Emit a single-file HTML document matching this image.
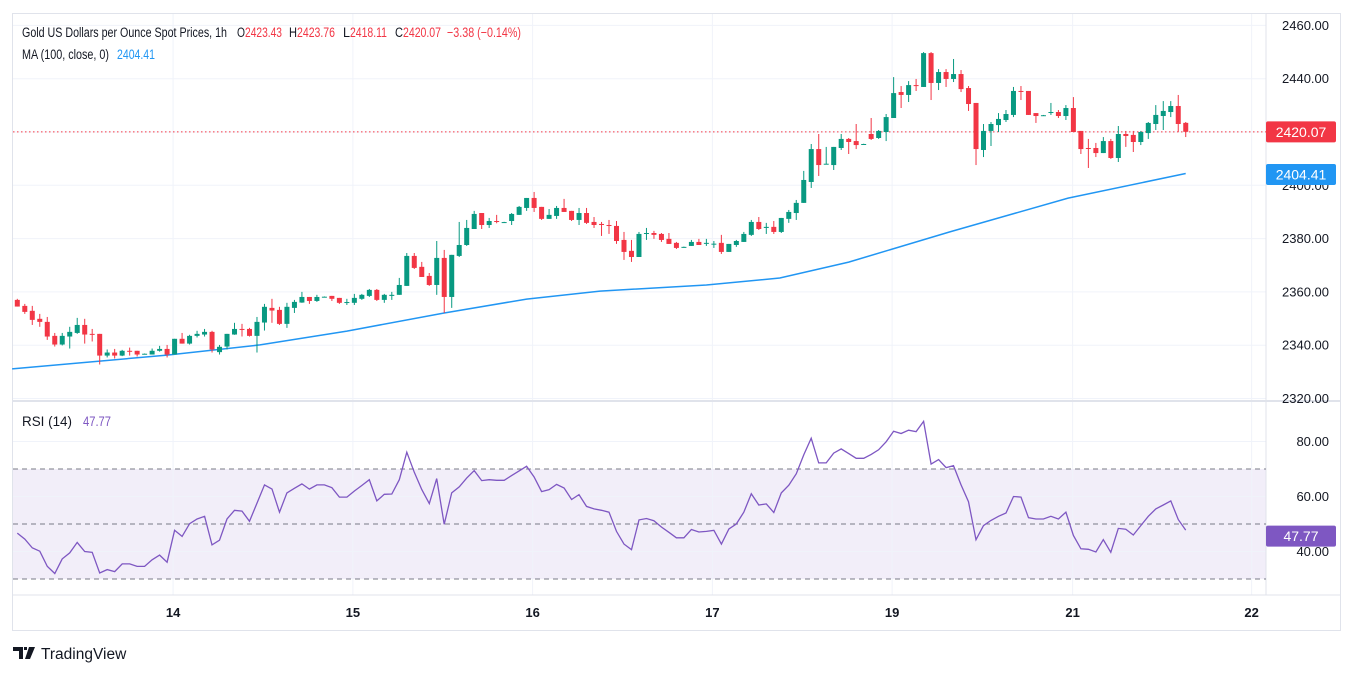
<!DOCTYPE html>
<html><head><meta charset="utf-8">
<style>
html,body{margin:0;padding:0;background:#fff;}
svg{display:block;font-family:"Liberation Sans",sans-serif;}
</style></head>
<body>
<svg id="chart" width="1354" height="675" viewBox="0 0 1354 675" xmlns="http://www.w3.org/2000/svg">
<rect x="12.5" y="13.5" width="1328" height="617" fill="#fff" stroke="#e0e3eb"/>
<rect id="band" x="13" y="469" width="1253" height="110" fill="#7e57c2" fill-opacity="0.1"/>
<g id="grid"></g>
<line x1="13" y1="401" x2="1340" y2="401" stroke="#e0e3eb" stroke-width="2"/>
<line x1="13" y1="595" x2="1340" y2="595" stroke="#e0e3eb"/>
<line x1="1266" y1="13" x2="1266" y2="595" stroke="#e0e3eb"/>
<g id="rsiGuides"></g>
<path id="maLine" fill="none" stroke="#2196f3" stroke-width="1.5"/>
<line id="lastLine" x1="13" x2="1266" stroke="#f23645" stroke-dasharray="1.5,2.5"/>
<g id="candles"></g>
<path id="rsiLine" fill="none" stroke="#7e57c2" stroke-width="1.3"/>
<g id="axes" font-size="13" fill="#131722"></g>
<g font-size="13.5" fill="#131722">
<text x="22" y="37" textLength="205" lengthAdjust="spacingAndGlyphs">Gold US Dollars per Ounce Spot Prices, 1h</text>
<text x="237" y="37" textLength="8" lengthAdjust="spacingAndGlyphs">O</text>
<text x="245" y="37" fill="#f23645" textLength="37" lengthAdjust="spacingAndGlyphs">2423.43</text>
<text x="289" y="37" textLength="8" lengthAdjust="spacingAndGlyphs">H</text>
<text x="297" y="37" fill="#f23645" textLength="38" lengthAdjust="spacingAndGlyphs">2423.76</text>
<text x="343" y="37" textLength="7" lengthAdjust="spacingAndGlyphs">L</text>
<text x="350" y="37" fill="#f23645" textLength="37" lengthAdjust="spacingAndGlyphs">2418.11</text>
<text x="395" y="37" textLength="8" lengthAdjust="spacingAndGlyphs">C</text>
<text x="403" y="37" fill="#f23645" textLength="38" lengthAdjust="spacingAndGlyphs">2420.07</text>
<text x="447" y="37" fill="#f23645" textLength="74" lengthAdjust="spacingAndGlyphs">−3.38 (−0.14%)</text>
<text x="22" y="59" textLength="87" lengthAdjust="spacingAndGlyphs">MA (100, close, 0)</text>
<text x="117" y="59" fill="#2196f3" textLength="38" lengthAdjust="spacingAndGlyphs">2404.41</text>
<text x="22" y="426" textLength="50" lengthAdjust="spacingAndGlyphs">RSI (14)</text>
<text x="83" y="426" fill="#7e57c2" textLength="28" lengthAdjust="spacingAndGlyphs">47.77</text>
</g>
<g>
<path d="M13 647h10v12h-4v-8h-6z M24 647h3v3h-3z M29 647h6l-5 12h-5z" fill="#131722"/>
<text x="41" y="659" font-size="15.5" fill="#131722">TradingView</text>
</g>
</svg>
<script>
const opens=[2357,2354.75,2352.9,2349.9,2348.75,2343.5,2340.25,2343.25,2344.6,2347.6,2344.25,2344.25,2336.1,2337.25,2336.1,2337.9,2337.9,2336.7,2336.5,2337.9,2338.6,2336.5,2342.4,2340.6,2343.5,2344,2345,2337.4,2339.5,2344,2346.1,2346.1,2343.5,2348.5,2354,2353.25,2348,2354,2356,2358.1,2356.6,2358.1,
2358.5,2357.75,2356.1,2355.9,2357.4,2358.5,2360.75,2357,2358.5,2358.9,2362.25,2373.5,2369.4,2366,2362.6,2372.75,2358.1,2373.5,2377.6,2383.6,2389.6,2385.1,2386.6,2386.1,2386.6,2388.9,2391.5,2395.25,2391.9,2387.4,2388.5,2391.5,2390.4,2387,2389.6,2386.25,2385.5,2385.1,2384.75,2379.5,2375.4,
2373.1,2381.75,2382.1,2381.75,2379.9,2378.4,2376.8,2377.25,2378.75,2378.25,2378,2378.4,2375,2377.6,2378.75,2381.4,2386.25,2384,2384.4,2382.5,2387.4,2389.6,2393.4,2401.25,2413.6,2408,2407.6,2414,2417.4,2416.6,2415.4,2419.25,2417.75,2420,
2425.25,2435,2433.9,2437.6,2436.9,2449.6,2438.4,2442.5,2439.9,2441.75,2436.5,2430.9,2413.25,2420.4,2422.6,2424.5,2426.4,2435.4,2435.4,2427.1,2426.25,2427.25,2427.5,2426,2429,2420.4,2414,2414,2412.1,2416.6,2410.25,2419.25,2418.9,2416.25,2419.6,2423,2426,2427.5,2429.75,2423.43];
const highs=[2357.4,2355.5,2354.75,2351.75,2350.6,2344.6,2344.6,2346.9,2350.25,2349.9,2346.1,2344.25,2338.4,2338.6,2338.25,2339.1,2337.9,2336.9,2338.75,2339.75,2340.1,2342.4,2344.6,2343.9,2345.4,2346.1,2345.4,2340.1,2344.25,2348.4,2348,2346.5,2350.6,2355.5,2357.4,2354.4,2355.9,2357,2360,2358.1,2358.9,2358.3,
2358.5,2357.75,2357.4,2359.25,2359.25,2361.1,2361.1,2359.25,2360,2365.25,2374.6,2374.6,2371.25,2367.1,2379.1,2375.75,2373.9,2386.25,2387,2390.4,2389.6,2387.75,2388.9,2386.3,2389.6,2392.25,2395.25,2397.5,2391.9,2391.1,2392.25,2394.9,2390.4,2391.5,2391.5,2388.1,2386.25,2387,2386.6,2382.5,2379.5,
2382.5,2384,2382.9,2382.1,2382.1,2378.75,2377,2379.5,2379.9,2379.9,2379.1,2381.4,2378,2379.5,2382.5,2387,2388.1,2385.9,2386.6,2387.75,2390.75,2394.5,2405.4,2415.5,2419.25,2414.4,2414.4,2419.25,2417.75,2423,2415.6,2425.25,2420.75,2426.75,
2440.6,2437.25,2439.1,2439.9,2450,2450,2443.6,2443.6,2447.4,2443.25,2437.25,2430.9,2423,2423.75,2427.1,2428.25,2436.9,2437.25,2435.4,2427.1,2426.4,2430.9,2428.25,2430.1,2433.1,2420.4,2417.4,2415.9,2418.1,2417.4,2422.25,2420.4,2420.4,2420.4,2423.75,2430.1,2431.6,2431.6,2433.9,2423.76];
const lows=[2354.5,2351.75,2347.6,2346.9,2342,2339.5,2339.9,2338.75,2344.25,2340.6,2341.4,2332.75,2335.4,2335,2335.9,2336.1,2335.75,2336.5,2336.5,2337.6,2335.4,2336.5,2340.6,2340.25,2342.9,2343.25,2337.25,2336.5,2338.4,2343.9,2343.25,2343.25,2337.25,2345.5,2348.4,2347.6,2346.5,2352.1,2355.9,2355.5,2356.25,2357.9,
2356.6,2355.5,2355.1,2355.1,2357,2358.1,2356.6,2355.9,2357,2358.9,2362.25,2368.6,2365.6,2362.25,2358.9,2352.1,2354,2373.1,2377.25,2383.6,2383.6,2384,2385.75,2386,2385.1,2388.9,2390.4,2390,2387,2387.4,2387.4,2390,2386.6,2385.1,2385.5,2384,2381,2381.75,2378,2372,2371.25,
2373.1,2379.5,2379.9,2378.75,2378,2376.1,2376.6,2377.25,2377.6,2377.25,2376.5,2374.25,2375,2376.9,2378.75,2381,2383.25,2381.75,2381.75,2382.1,2385.9,2387,2393.4,2399,2403.5,2408,2405.75,2413.25,2411.75,2413.6,2415.25,2417,2417.4,2416.6,
2425.25,2429,2431.25,2435.4,2436.9,2432,2435.75,2436.9,2438.75,2435,2427.9,2407.6,2410.6,2414.75,2420,2423.75,2425.6,2432,2426.4,2423.4,2426.1,2426.4,2425.25,2424.5,2420,2411.75,2406.5,2410.6,2412.1,2409.9,2408.75,2414.4,2412.5,2415.1,2417.4,2420.75,2420.75,2425.6,2420,2418.11];
const closes=[2354.5,2352.5,2349.5,2348.75,2343.25,2340.25,2343.5,2345,2347.6,2344,2344.1,2336.1,2337.25,2336.1,2337.9,2337.6,2336.5,2336.8,2337.9,2338.6,2336.5,2342.4,2340.6,2343.5,2344.25,2345,2338.4,2339.4,2344.25,2346.1,2345.9,2343.5,2348.75,2354.4,2353,2348,2354.4,2356.25,2358.1,2356.6,2358.1,2358.2,
2357.4,2355.9,2356.2,2357.75,2358.9,2360.75,2357,2358.9,2358.9,2362.6,2373.5,2369,2365.6,2362.6,2372.75,2358.1,2373.9,2377.6,2384,2389.25,2385.1,2386.6,2386.25,2386.2,2389.25,2391.9,2395.25,2391.5,2387.4,2388.9,2391.5,2390,2387,2389.6,2385.9,2385.1,2385.1,2385,2379.1,2375,2373.1,
2381.75,2382.1,2381.4,2379.5,2378,2376.5,2376.9,2378.75,2377.6,2378.4,2378.1,2375,2378,2379.1,2381.75,2386.25,2383.6,2384.4,2382.5,2387.75,2390,2393.4,2402,2413.6,2407.6,2408.1,2414.4,2417.4,2416.25,2415.1,2415.5,2417.4,2420.4,2425.6,
2434.6,2433.9,2437.6,2437.4,2449.6,2438.4,2442.5,2439.9,2441.75,2436.1,2430.5,2413.6,2420.4,2423,2424.9,2426.75,2435.4,2435.1,2426.4,2426,2426.3,2427.5,2426,2429,2420,2413.6,2413.75,2412.1,2416.6,2410.25,2419.25,2418.5,2416.25,2420,2423.4,2426.4,2427.9,2429.75,2423,2420.07];
const maBars=[-0.7,20,32.4,44,57,68,77.8,92,101.8,111,124.5,140.3,156];
const maValues=[2331.1,2336.3,2340.1,2345.3,2352.1,2357.3,2360.3,2362.6,2365.2,2371.2,2382.5,2395.2,2404.41];
const rsiValues=[46.7,44.5,41.3,40.1,34.6,32.0,37.3,39.5,43.3,40.0,39.7,32.2,33.4,32.7,35.5,35.5,34.6,34.6,37.0,38.7,36.1,47.7,45.5,50.1,51.8,52.8,42.4,44.1,51.8,55.0,54.7,51.0,57.6,64.2,62.7,54.3,61.3,63.0,64.6,62.7,64.2,64.2,63.2,59.8,59.8,62.0,64.0,66.1,58.4,60.8,60.9,66.1,76.1,68.8,62.5,57.4,66.5,49.9,61.3,63.5,66.7,69.4,65.8,66.1,65.9,65.9,67.6,69.3,71.0,67.1,61.8,62.5,64.4,63.1,58.9,60.7,56.4,55.5,55.0,54.3,47.3,42.7,40.7,51.5,52.0,51.2,48.9,47.0,45.0,45.0,48.0,47.1,47.3,47.7,42.7,48.2,50.0,54.3,61.0,56.9,57.3,54.2,61.3,64.1,68.3,75.2,81.2,72.2,72.2,75.8,77.3,75.6,73.9,73.9,75.3,77.0,79.9,83.7,82.9,84.1,83.6,87.3,71.8,73.4,70.5,71.2,64.3,58.1,44.3,49.4,51.3,52.8,54.0,60.0,59.8,52.3,51.8,51.8,52.8,51.8,54.3,45.8,41.0,40.8,39.8,44.3,39.7,48.4,48.1,46.0,49.4,52.8,55.5,56.9,58.4,51.6,47.77];
const priceTicks=[2460,2440,2420,2400,2380,2360,2340,2320];
const rsiTicks=[80,60,40];
const dayLabels=["14","15","16","17","19","21","22"];
const dayBars=[20.8,44.8,68.8,92.8,116.8,140.9,164.8];
const lastPrice=2420.07, lastMA=2404.41, lastRSI=47.77;

const NS="http://www.w3.org/2000/svg";
function xOf(i){return 17.3+7.49*i;}
function yP(p){return 132-(p-2420)*2.665;}
function yR(r){return 524-(r-50)*2.75;}
function mk(tag,attrs,parent){const e=document.createElementNS(NS,tag);for(const k in attrs)e.setAttribute(k,attrs[k]);parent.appendChild(e);return e;}

const grid=document.getElementById('grid'), axes=document.getElementById('axes');
priceTicks.forEach(t=>{
  const l=mk('line',{x1:13,x2:1266,y1:yP(t),y2:yP(t),stroke:'#f0f3fa'},grid);
  
  
  const tx=mk('text',{x:1329,y:yP(t)+4.5,'text-anchor':'end'},axes);
  
  
  tx.textContent=t.toFixed(2);
});
rsiTicks.forEach(t=>{
  const l=mk('line',{x1:13,x2:1266,y1:yR(t),y2:yR(t),stroke:'#f0f3fa'},grid);
  
  
  const tx=mk('text',{x:1329,y:yR(t)+4.5,'text-anchor':'end'},axes);
  
  
  tx.textContent=t.toFixed(2);
});
dayLabels.forEach((d,i)=>{
  const x=xOf(dayBars[i]);
  const l=mk('line',{x1:x,x2:x,y1:14,y2:595,stroke:'#f0f3fa'},grid);
  
  
  const tx=mk('text',{x:x,y:617,'text-anchor':'middle','font-weight':'bold','font-size':'13'},axes);
  
  
  tx.textContent=d;
});
const g=document.getElementById('rsiGuides');
[70,50,30].forEach(v=>{
  const l=mk('line',{x1:13,x2:1266,y1:yR(v),y2:yR(v),stroke:'#787b86','stroke-dasharray':'5,4'},g);
  
  
});
document.getElementById('band').setAttribute('y',yR(70));
document.getElementById('band').setAttribute('height',yR(30)-yR(70));

const cg=document.getElementById('candles');
for(let i=0;i<closes.length;i++){
  const up=closes[i]>=opens[i], col=up?'#089981':'#f23645', x=xOf(i);
  const w=mk('line',{x1:x,x2:x,y1:yP(highs[i]),y2:yP(lows[i]),stroke:col,'stroke-width':1},cg);
  
  
  const top=yP(Math.max(opens[i],closes[i])), bot=yP(Math.min(opens[i],closes[i]));
  const b=mk('rect',{x:x-2.5,y:top,width:5,height:Math.max(1,bot-top),fill:col},cg);
  
  
}
let d='';
maBars.forEach((b,i)=>{d+=(i?'L':'M')+xOf(b).toFixed(1)+' '+yP(maValues[i]).toFixed(1);});
document.getElementById('maLine').setAttribute('d',d);
d='';
rsiValues.forEach((r,i)=>{d+=(i?'L':'M')+xOf(i).toFixed(1)+' '+yR(r).toFixed(1);});
document.getElementById('rsiLine').setAttribute('d',d);
const ll=document.getElementById('lastLine');ll.setAttribute('y1',yP(lastPrice));ll.setAttribute('y2',yP(lastPrice));

function pill(val,y,col,name){
  const r=mk('rect',{x:1266,y:y-10.5,width:70,height:21,rx:2,fill:col},axes);
  
  
  const t=mk('text',{x:1301,y:y+5,'text-anchor':'middle',fill:'#fff','font-size':'14'},axes);
  
  
  t.textContent=val.toFixed(2);
}
pill(lastPrice,yP(lastPrice),'#f23645','last-price-label');
pill(lastMA,yP(lastMA)+1,'#2196f3','ma-price-label');
pill(lastRSI,yR(lastRSI)+6,'#7e57c2','rsi-value-label');
</script>
</body></html>
